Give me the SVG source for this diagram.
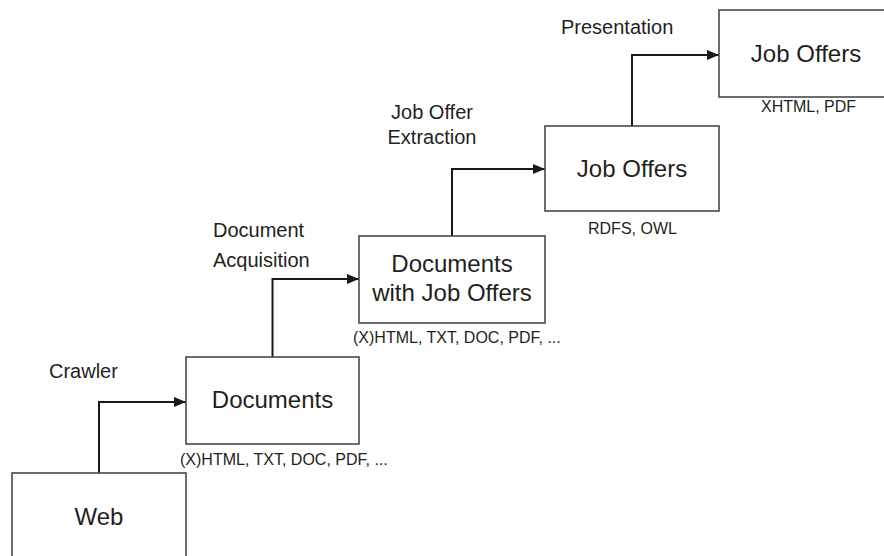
<svg xmlns="http://www.w3.org/2000/svg" width="884" height="556" viewBox="0 0 884 556">
  <style>
    .box { fill: #ffffff; stroke: #4a4a4a; stroke-width: 1.6; }
    .title { font-family: "Liberation Sans", Arial, sans-serif; font-size: 24px; fill: #231f20; text-anchor: middle; }
    .fmt { font-family: "Liberation Sans", Arial, sans-serif; font-size: 16px; fill: #231f20; }
    .step { font-family: "Liberation Sans", Arial, sans-serif; font-size: 20px; fill: #231f20; }
    .link { fill: none; stroke: #1a1a1a; stroke-width: 2; marker-end: url(#arrow); }
  </style>
  <defs>
    <marker id="arrow" viewBox="0 0 12 10" refX="12" refY="5" markerWidth="12" markerHeight="10" markerUnits="userSpaceOnUse" orient="auto">
      <path d="M0,0 L12,5 L0,10 Z" fill="#1a1a1a"/>
    </marker>
  </defs>
  <rect width="884" height="556" fill="#ffffff"/>

  <!-- pipeline steps -->
  <g id="connectors">
    <path class="link" d="M99,473 V402 H186"/>
    <path class="link" d="M272.5,357 V279 H359"/>
    <path class="link" d="M452,236 V169 H545"/>
    <path class="link" d="M632,126 V55 H719"/>
    <text class="step" x="49" y="378">Crawler</text>
    <text class="step" x="213" y="237">Document</text>
    <text class="step" x="213" y="267">Acquisition</text>
    <text class="step" x="432" y="119" text-anchor="middle">Job Offer</text>
    <text class="step" x="432" y="144" text-anchor="middle">Extraction</text>
    <text class="step" x="561" y="34">Presentation</text>
  </g>

  <g id="web">
    <rect class="box" x="12" y="473" width="174" height="95"/>
    <text class="title" x="99" y="525">Web</text>
  </g>

  <g id="documents">
    <rect class="box" x="186" y="357" width="173" height="87"/>
    <text class="title" x="272.5" y="408">Documents</text>
    <text class="fmt" x="180" y="465">(X)HTML, TXT, DOC, PDF, ...</text>
  </g>

  <g id="documents-with-job-offers">
    <rect class="box" x="359" y="236" width="186" height="87"/>
    <text class="title" x="452" y="272">Documents</text>
    <text class="title" x="452" y="301">with Job Offers</text>
    <text class="fmt" x="353" y="343">(X)HTML, TXT, DOC, PDF, ...</text>
  </g>

  <g id="job-offers-semantic">
    <rect class="box" x="545" y="126" width="174" height="85"/>
    <text class="title" x="632" y="177">Job Offers</text>
    <text class="fmt" x="588" y="234">RDFS, OWL</text>
  </g>

  <g id="job-offers-output">
    <rect class="box" x="719" y="10" width="174" height="87"/>
    <text class="title" x="806" y="62">Job Offers</text>
    <text class="fmt" x="761" y="112">XHTML, PDF</text>
  </g>
</svg>
